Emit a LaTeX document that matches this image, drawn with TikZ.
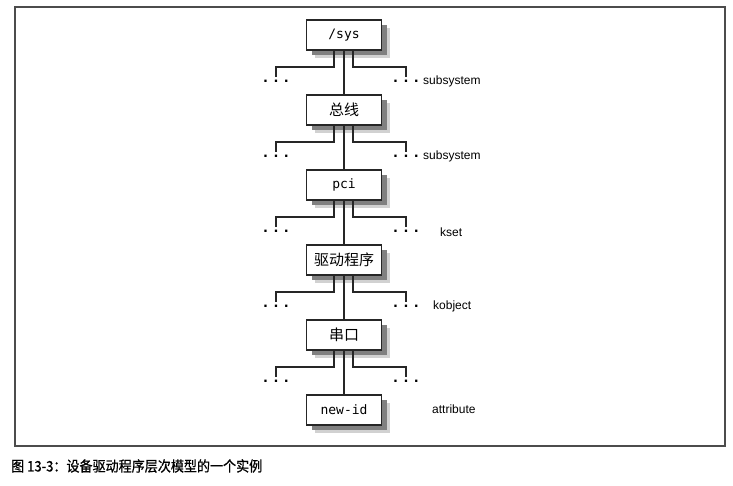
\documentclass[tikz,border=0pt]{standalone}
\usepackage{fontspec}
\setmainfont{Liberation Sans}
\setmonofont{DejaVu Sans Mono}
\newfontfamily\cjk{Noto Sans CJK SC}
\newfontfamily\cjkcap[FakeBold=0.8]{Noto Sans CJK SC}
\usetikzlibrary{shadows}
\newcommand\zh[1]{{\cjk\fontsize{15}{15}\selectfont #1}}

\begin{document}
\begin{tikzpicture}[x=1pt,y=-1pt,
    level/.style ={draw=black!85, line width=1.6pt, fill=white,
      minimum width=75pt, minimum height=30pt, inner sep=0pt,
      drop shadow={shadow xshift=8pt, shadow yshift=-8pt, fill=black!18, opacity=1},
      drop shadow={shadow xshift=5pt, shadow yshift=-5pt, fill=black!50, opacity=1},
      font=\ttfamily\fontsize{13}{13}\selectfont},
    more/.style ={inner sep=0pt, font=\bfseries\fontsize{16}{16}\selectfont},
    kind/.style ={anchor=west, inner sep=0pt, font=\fontsize{12}{12}\selectfont},
    link/.style ={draw=black!85, line width=1.6pt}]
   \useasboundingbox (0,0) rectangle (733,486);
   \draw[black!70, line width=1.6pt] (15,7) rectangle (725,446);
   % the levels
   \node[level] (sys)   at (344,35)  {/sys};
   \node[level] (bus)   at (344,110) {\zh{总线}};
   \node[level] (pci)   at (344,185) {pci};
   \node[level] (drv)   at (344,260) {\zh{驱动程序}};
   \node[level] (ser)   at (344,335) {\zh{串口}};
   \node[level] (newid) at (344,410) {new-id};
   % the dots on each side
   \node[more] (sysL) at (276,81)  {. . .};
   \node[more] (sysR) at (406,81)  {. . .};
   \node[more] (busL) at (276,156) {. . .};
   \node[more] (busR) at (406,156) {. . .};
   \node[more] (pciL) at (276,231) {. . .};
   \node[more] (pciR) at (406,231) {. . .};
   \node[more] (drvL) at (276,306) {. . .};
   \node[more] (drvR) at (406,306) {. . .};
   \node[more] (serL) at (276,381) {. . .};
   \node[more] (serR) at (406,381) {. . .};
   % the kinds
   \node[kind] (sub1) at (423,81)  {subsystem};
   \node[kind] (sub2) at (423,156) {subsystem};
   \node[kind] (kset) at (440,232) {kset};
   \node[kind] (kobj) at (433,306) {kobject};
   \node[kind] (attr) at (432,409) {attribute};
   \draw[link] (sys) to (bus);
   \draw[link] (bus) to (pci);
   \draw[link] (pci) to (drv);
   \draw[link] (drv) to (ser);
   \draw[link] (ser) to (newid);
   \draw[link] ([xshift=-10pt]sys.south) -- ++(0,16) -| ([yshift=3pt]sysL.north);
   \draw[link] ([xshift=9pt]sys.south) -- ++(0,16) -| ([yshift=3pt]sysR.north);
   \draw[link] ([xshift=-10pt]bus.south) -- ++(0,16) -| ([yshift=3pt]busL.north);
   \draw[link] ([xshift=9pt]bus.south) -- ++(0,16) -| ([yshift=3pt]busR.north);
   \draw[link] ([xshift=-10pt]pci.south) -- ++(0,16) -| ([yshift=3pt]pciL.north);
   \draw[link] ([xshift=9pt]pci.south) -- ++(0,16) -| ([yshift=3pt]pciR.north);
   \draw[link] ([xshift=-10pt]drv.south) -- ++(0,16) -| ([yshift=3pt]drvL.north);
   \draw[link] ([xshift=9pt]drv.south) -- ++(0,16) -| ([yshift=3pt]drvR.north);
   \draw[link] ([xshift=-10pt]ser.south) -- ++(0,16) -| ([yshift=3pt]serL.north);
   \draw[link] ([xshift=9pt]ser.south) -- ++(0,16) -| ([yshift=3pt]serR.north);
   % caption
   \node[anchor=west, inner sep=0pt, font=\cjkcap\fontsize{14.5}{14.5}\selectfont] (caption)
     at (11,466) {\scalebox{0.9}[1]{图 13-3：设备驱动程序层次模型的一个实例}};
 \end{tikzpicture}
\end{document}
